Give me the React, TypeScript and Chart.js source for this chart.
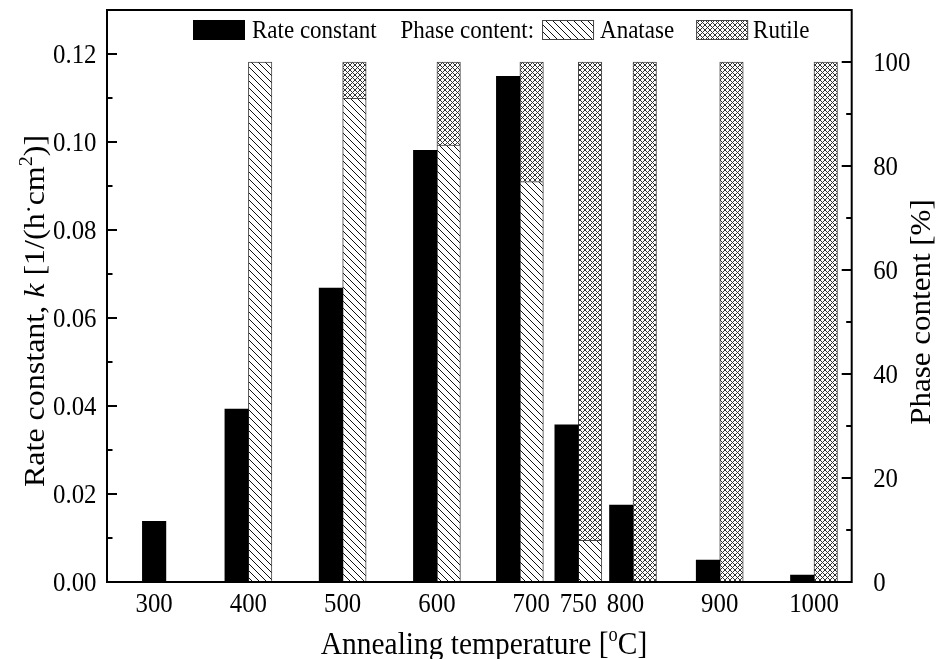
import React, { useEffect, useRef } from 'react';
import { Chart, registerables } from 'chart.js';

Chart.register(...registerables);

// Annealing temperatures (°C) used as tick labels along the x axis
const temperatures = [300, 400, 500, 600, 700, 750, 800, 900, 1000];
// Where each bar pair sits on the temperature axis (700 and 800 are nudged apart to leave room for 750)
const barPositions = [300, 400, 500, 600, 688, 750, 808, 900, 1000];
// Rate constant k [1/(h·cm²)]
const rateConstant = [0.0138, 0.0393, 0.0668, 0.0981, 0.1149, 0.0357, 0.0175, 0.005, 0.0016];
// Phase content [%]
const anataseContent = [null, 100, 93, 84, 77, 8, 0, 0, 0];
const rutileContent = [null, 0, 7, 16, 23, 92, 100, 100, 100];

const rateTicks = [0, 0.02, 0.04, 0.06, 0.08, 0.1, 0.12];
const rateMinorTicks = [0.01, 0.03, 0.05, 0.07, 0.09, 0.11];
const phaseTicks = [0, 20, 40, 60, 80, 100];
const phaseMinorTicks = [10, 30, 50, 70, 90];

const FONT = '"Liberation Serif", "Times New Roman", serif';
const SX = 0.92; // horizontal squeeze applied to all text

type Seg = { text: string; size: number; italic?: boolean; rise?: number };

function fontOf(s: Seg) {
  return `${s.italic ? 'italic ' : ''}${s.size}px ${FONT}`;
}

function drawRich(
  ctx: CanvasRenderingContext2D,
  segs: Seg[],
  x: number,
  y: number,
  align: 'left' | 'center' | 'right',
  rotate = false
) {
  ctx.save();
  ctx.translate(x, y);
  ctx.scale(SX, 1);
  if (rotate) ctx.rotate(-Math.PI / 2);
  ctx.textBaseline = 'alphabetic';
  ctx.textAlign = 'left';
  ctx.fillStyle = '#000';
  let total = 0;
  const widths = segs.map((s) => {
    ctx.font = fontOf(s);
    const w = ctx.measureText(s.text).width;
    total += w;
    return w;
  });
  let cx = align === 'left' ? 0 : align === 'center' ? -total / 2 : -total;
  segs.forEach((s, i) => {
    ctx.font = fontOf(s);
    ctx.fillText(s.text, cx, -(s.rise || 0));
    cx += widths[i];
  });
  ctx.restore();
  return total * SX;
}

function makeHatch(size: number, cross: boolean, color: string): CanvasPattern {
  const c = document.createElement('canvas');
  c.width = size;
  c.height = size;
  const g = c.getContext('2d')!;
  g.fillStyle = '#fff';
  g.fillRect(0, 0, size, size);
  g.strokeStyle = color;
  g.lineWidth = 1;
  g.beginPath();
  for (const o of [-size, 0, size]) {
    g.moveTo(o, 0);
    g.lineTo(o + size, size);
    if (cross) {
      g.moveTo(o, size);
      g.lineTo(o + size, 0);
    }
  }
  g.stroke();
  return g.createPattern(c, 'repeat')!;
}

export default function App() {
  const canvasRef = useRef<HTMLCanvasElement | null>(null);

  useEffect(() => {
    const canvas = canvasRef.current;
    if (!canvas) return;
    const anatasePattern = makeHatch(7, false, '#111');
    const rutilePattern = makeHatch(5, true, '#333');

    const decorations = {
      id: 'decorations',
      afterDraw(chart: any) {
        const ctx: CanvasRenderingContext2D = chart.ctx;
        const { left, right, top, bottom } = chart.chartArea;
        const xs = chart.scales.x;
        const ys = chart.scales.y;
        const y1 = chart.scales.y1;

        ctx.save();
        // frame
        ctx.strokeStyle = '#000';
        ctx.lineWidth = 2;
        ctx.strokeRect(left, top, right - left, bottom - top);

        // inward ticks
        ctx.beginPath();
        rateTicks.forEach((v) => {
          const p = ys.getPixelForValue(v);
          ctx.moveTo(left, p);
          ctx.lineTo(left + 10, p);
        });
        rateMinorTicks.forEach((v) => {
          const p = ys.getPixelForValue(v);
          ctx.moveTo(left, p);
          ctx.lineTo(left + 5.5, p);
        });
        phaseTicks.forEach((v) => {
          const p = y1.getPixelForValue(v);
          ctx.moveTo(right, p);
          ctx.lineTo(right - 10, p);
        });
        phaseMinorTicks.forEach((v) => {
          const p = y1.getPixelForValue(v);
          ctx.moveTo(right, p);
          ctx.lineTo(right - 5.5, p);
        });
        ctx.stroke();
        ctx.restore();

        // tick labels
        rateTicks.forEach((v) => {
          drawRich(ctx, [{ text: v.toFixed(2), size: 27 }], left - 10.5, ys.getPixelForValue(v) + 9, 'right');
        });
        phaseTicks.forEach((v) => {
          drawRich(ctx, [{ text: String(v), size: 27 }], right + 21.5, y1.getPixelForValue(v) + 9, 'left');
        });
        temperatures.forEach((t) => {
          drawRich(ctx, [{ text: String(t), size: 27 }], xs.getPixelForValue(t), bottom + 30, 'center');
        });

        // axis titles
        drawRich(
          ctx,
          [
            { text: 'Annealing temperature [', size: 32 },
            { text: 'o', size: 20, rise: 13 },
            { text: 'C]', size: 32 },
          ],
          484,
          654,
          'center'
        );
        drawRich(
          ctx,
          [
            { text: 'Rate constant, ', size: 32 },
            { text: 'k', size: 32, italic: true },
            { text: ' [1/(h', size: 32 },
            { text: '·', size: 24, rise: 9 },
            { text: 'cm', size: 32 },
            { text: '2', size: 20, rise: 13 },
            { text: ')]', size: 32 },
          ],
          44,
          311,
          'center',
          true
        );
        drawRich(ctx, [{ text: 'Phase content [%]', size: 31 }], 930, 312, 'center', true);

        // legend
        const boxW = 52;
        const boxTop = 20;
        const boxH = 20;
        const base = 38;
        const lf = 25;
        let x = 193;
        ctx.save();
        ctx.fillStyle = '#000';
        ctx.fillRect(x, boxTop, boxW, boxH);
        ctx.restore();
        x += boxW + 7;
        x += drawRich(ctx, [{ text: 'Rate constant', size: lf }], x, base, 'left');
        x += 24;
        x += drawRich(ctx, [{ text: 'Phase content:', size: lf }], x, base, 'left');
        x += 8;
        const patternBox = (px: number, pat: CanvasPattern) => {
          ctx.save();
          ctx.fillStyle = pat;
          ctx.fillRect(px, boxTop, boxW, boxH);
          ctx.strokeStyle = '#444';
          ctx.lineWidth = 1;
          ctx.strokeRect(px + 0.5, boxTop + 0.5, boxW - 1, boxH - 1);
          ctx.restore();
        };
        patternBox(x, anatasePattern);
        x += boxW + 6;
        x += drawRich(ctx, [{ text: 'Anatase', size: lf }], x, base, 'left');
        x += 22;
        patternBox(x, rutilePattern);
        x += boxW + 5;
        drawRich(ctx, [{ text: 'Rutile', size: lf }], x, base, 'left');
      },
    };

    const toPoints = (vals: (number | null)[]) => barPositions.map((x, i) => ({ x, y: vals[i] }));

    const chart = new Chart(canvas, {
      type: 'bar',
      data: {
        datasets: [
          {
            label: 'Rate constant',
            data: toPoints(rateConstant) as any,
            yAxisID: 'y',
            stack: 'rate',
            backgroundColor: '#000',
            borderColor: '#000',
            borderWidth: 0,
          },
          {
            label: 'Anatase',
            data: toPoints(anataseContent) as any,
            yAxisID: 'y1',
            stack: 'phase',
            backgroundColor: anatasePattern as any,
            borderColor: '#444',
            borderWidth: 1,
          },
          {
            label: 'Rutile',
            data: toPoints(rutileContent) as any,
            yAxisID: 'y1',
            stack: 'phase',
            backgroundColor: rutilePattern as any,
            borderColor: '#444',
            borderWidth: 1,
          },
        ],
      },
      options: {
        animation: false,
        responsive: false,
        devicePixelRatio: 1,
        layout: { padding: { top: 10, left: 0, right: 0, bottom: 0 } },
        datasets: { bar: { barThickness: 23.5, skipNull: true } as any },
        plugins: { legend: { display: false }, tooltip: { enabled: false } },
        scales: {
          x: {
            type: 'linear',
            min: 250,
            max: 1040,
            offset: false,
            grid: { display: false },
            border: { display: false },
            ticks: { display: false },
            afterFit: (s: any) => {
              s.height = 77;
            },
          },
          y: {
            position: 'left',
            min: 0,
            max: 0.13,
            grid: { display: false },
            border: { display: false },
            ticks: { display: false },
            afterFit: (s: any) => {
              s.width = 107;
            },
          },
          y1: {
            position: 'right',
            min: 0,
            max: 110,
            stacked: true,
            grid: { display: false },
            border: { display: false },
            ticks: { display: false },
            afterFit: (s: any) => {
              s.width = 89.3;
            },
          },
        },
      },
      plugins: [decorations],
    } as any);

    return () => chart.destroy();
  }, []);

  return (
    <div style={{ position: 'fixed', left: 0, top: 0, width: 941, height: 659, background: '#fff' }}>
      <canvas ref={canvasRef} width={941} height={659} style={{ display: 'block' }} />
    </div>
  );
}
